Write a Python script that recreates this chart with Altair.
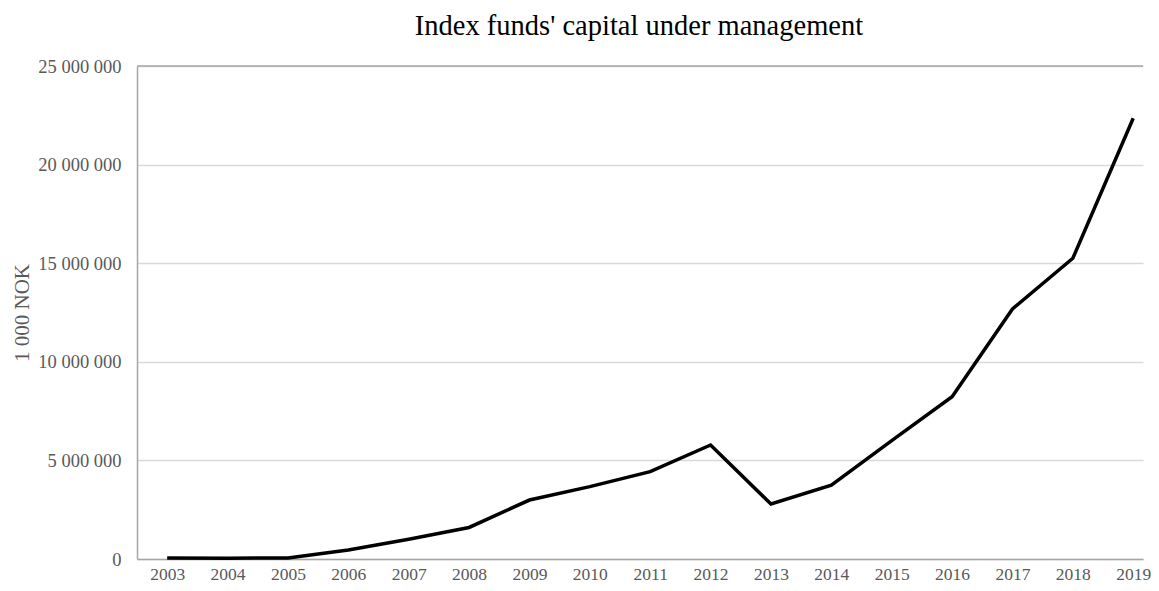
import altair as alt
import pandas as pd

years = list(range(2003, 2020))
capital = [50000, 40000, 50000, 460000, 1000000, 1600000, 2990000, 3670000,
           4430000, 5780000, 2790000, 3750000, 6000000, 8230000, 12680000,
           15250000, 22350000]
y_ticks = [0, 5000000, 10000000, 15000000, 20000000, 25000000]

df = pd.DataFrame({"year": years, "capital": capital})

FONT = "Liberation Serif"
label_expr = "replace(format(datum.value, ','), /,/g, ' ')"

base = alt.Chart(df)

line = base.mark_line(color="black", strokeWidth=3.5, strokeJoin="miter").encode(
    x=alt.X("year:Q",
            scale=alt.Scale(domain=[2002.5, 2019.162], nice=False, zero=False),
            axis=alt.Axis(values=years, format="d", title=None, ticks=False,
                          grid=False, domainColor="#a6a6a6", domainWidth=1.5,
                          labelFont=FONT, labelFontSize=17.5, labelColor="#595959",
                          labelPadding=6)),
    y=alt.Y("capital:Q",
            scale=alt.Scale(domain=[0, 25000000], nice=False),
            axis=alt.Axis(values=y_ticks, title="1 000 NOK", ticks=False,
                          labelExpr=label_expr,
                          grid=True, gridColor="#d9d9d9", gridWidth=1.5,
                          domainColor="#a6a6a6", domainWidth=1.5,
                          labelFont=FONT, labelFontSize=18.5, labelColor="#595959",
                          labelPadding=16,
                          titleFont=FONT, titleFontSize=21, titleColor="#595959",
                          titleFontWeight="normal", titlePadding=5)),
)

top_rule = alt.Chart(pd.DataFrame({"v": [25000000]})).mark_rule(
    color="#a6a6a6", strokeWidth=1.5).encode(y=alt.Y("v:Q"))

chart = alt.layer(line, top_rule).properties(
    width=1006,
    height=493,
    title=alt.TitleParams("Index funds' capital under management",
                          font=FONT, fontSize=28.5, fontWeight="normal",
                          color="black", anchor="middle", offset=17, dx=-1),
    autosize=alt.AutoSizeParams(type="none"),
    padding={"left": 129, "top": 58, "right": 8, "bottom": 24},
).configure_view(stroke=None)

chart.save("out.html", embed_options={"renderer": "svg", "actions": False})
